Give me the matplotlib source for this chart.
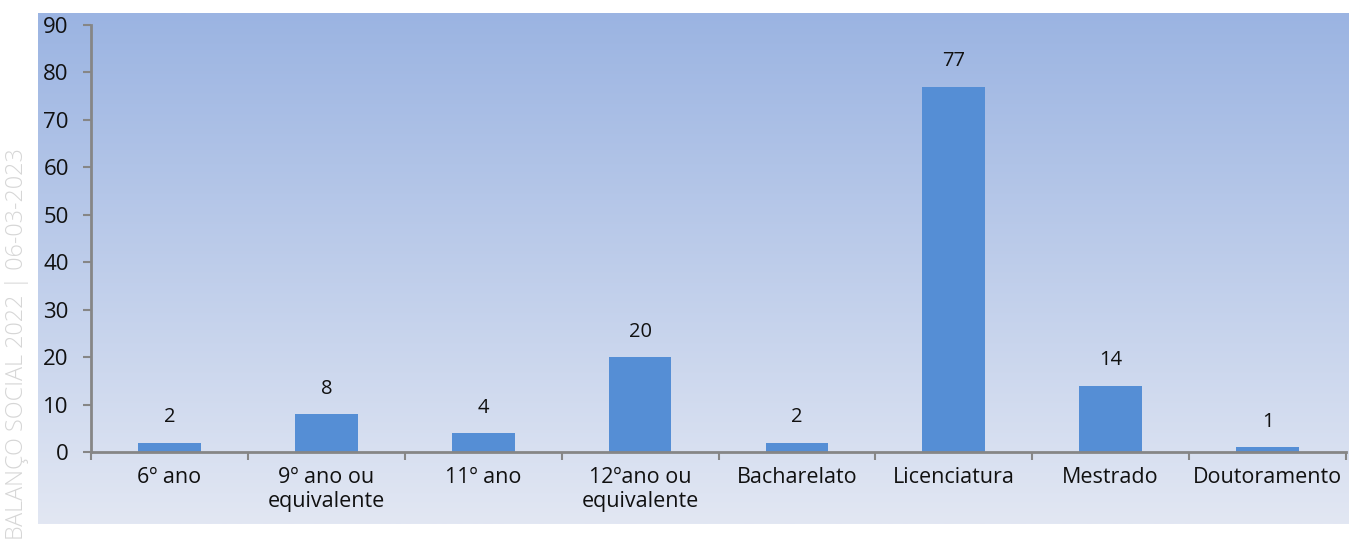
import numpy as np
import matplotlib.pyplot as plt
from matplotlib.ticker import FixedLocator, NullFormatter

categories = ['6º ano', '9º ano ou\nequivalente', '11º ano', '12ºano ou\nequivalente',
              'Bacharelato', 'Licenciatura', 'Mestrado', 'Doutoramento']
values = [2, 8, 4, 20, 2, 77, 14, 1]

plt.rcParams['font.family'] = ['Open Sans', 'DejaVu Sans']

W, H = 1349, 554
fig = plt.figure(figsize=(W / 100, H / 100), dpi=100)

# gradient panel behind the plot
bg = fig.add_axes([38 / W, (H - 524) / H, (W - 38) / W, (524 - 13) / H], zorder=0)
top = np.array([155, 180, 226]) / 255
bottom = np.array([226, 231, 243]) / 255
t = np.linspace(0, 1, 256)[:, None]
grad = top * (1 - t) + bottom * t
bg.imshow(grad[:, None, :], aspect='auto', extent=[0, 1, 0, 1])
bg.axis('off')

ax = fig.add_axes([91 / W, (H - 452) / H, (1346 - 91) / W, (452 - 25) / H], zorder=1)
ax.patch.set_alpha(0)

x = np.arange(len(categories))
bars = ax.bar(x, values, width=0.4, color='#558ED5', zorder=2)
for xi, v in zip(x, values):
    ax.annotate(str(v), (xi, v), xytext=(0, 11), textcoords='offset points',
                ha='center', va='bottom', fontsize=14.5, color='#111111')

ax.set_xlim(-0.5, len(categories) - 0.5)
ax.set_ylim(0, 90)
ax.set_yticks(range(0, 91, 10))
ax.tick_params(axis='y', labelsize=16, length=6, width=1.5, color='#868686',
               labelcolor='#111111', pad=10)

# ticks at category boundaries, labels at centres
ax.xaxis.set_major_locator(FixedLocator(np.arange(-0.5, len(categories), 1)))
ax.xaxis.set_major_formatter(NullFormatter())
ax.xaxis.set_minor_locator(FixedLocator(x))
ax.set_xticklabels(categories, minor=True)
ax.tick_params(axis='x', which='major', length=6, width=1.5, color='#868686')
ax.tick_params(axis='x', which='minor', length=0, labelsize=15.5,
               labelcolor='#111111', pad=11)
for lbl in ax.get_xticklabels(minor=True):
    lbl.set_linespacing(1.2)

for s in ['top', 'right']:
    ax.spines[s].set_visible(False)
for s in ['left', 'bottom']:
    ax.spines[s].set_color('#868686')
    ax.spines[s].set_linewidth(2)

fig.text(17 / W, 1 - 148 / H, 'BALANÇO SOCIAL 2022 | 06-03-2023', rotation=90,
         ha='center', va='top', fontsize=16.8, color='#d6d6d6', fontweight='light')

fig.savefig('out.png', dpi=100)
